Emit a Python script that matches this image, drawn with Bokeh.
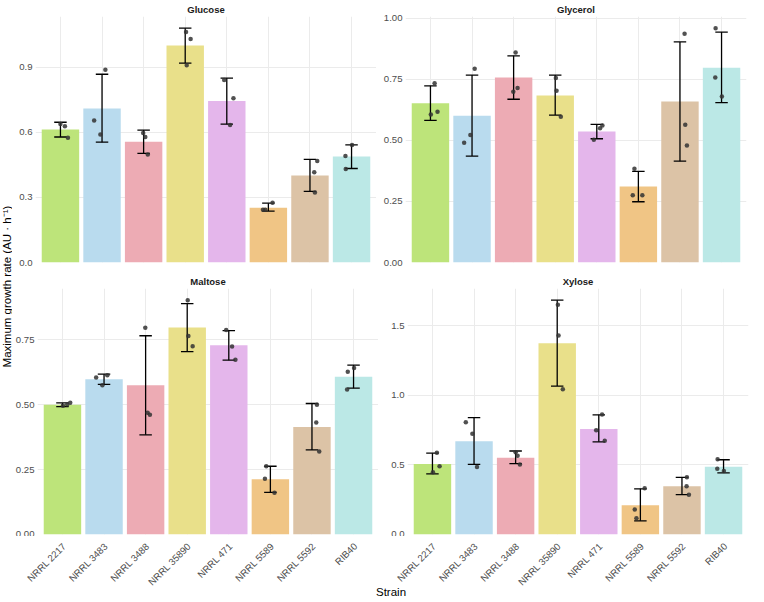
from math import pi
import numpy as np
from bokeh.plotting import figure
from bokeh.layouts import row, column
from bokeh.models import Range1d, FixedTicker, Label
from bokeh.core.properties import value
from bokeh.embed import file_html
from bokeh.resources import INLINE

FONT = "Liberation Sans"

strains = ["NRRL 2217", "NRRL 3483", "NRRL 3488", "NRRL 35890",
           "NRRL 471", "NRRL 5589", "NRRL 5592", "RIB40"]
bar_colors = ["#BDE47A", "#B9DBEE", "#EDABB4", "#E9E08A",
              "#E4B6EB", "#F0C585", "#DCC3A6", "#BBE8E6"]

# ---------------- Glucose ----------------
glucose_mean = [0.613, 0.709, 0.556, 0.999, 0.744, 0.252, 0.401, 0.488]
glucose_lo = [0.578, 0.554, 0.503, 0.918, 0.637, 0.237, 0.328, 0.433]
glucose_hi = [0.646, 0.867, 0.610, 1.079, 0.849, 0.273, 0.475, 0.542]
glucose_pts = [[0.638, 0.627, 0.574], [0.654, 0.590, 0.888], [0.596, 0.578, 0.497],
               [1.061, 1.029, 0.909], [0.841, 0.757, 0.633], [0.243, 0.243, 0.275],
               [0.467, 0.416, 0.322], [0.491, 0.541, 0.431]]
glucose_jit = [[0.00, 0.107, 0.18], [-0.19, -0.04, 0.08], [-0.01, 0.04, 0.10],
               [0.02, 0.13, 0.036], [-0.063, 0.16, 0.079], [-0.13, -0.075, 0.10],
               [0.175, 0.103, 0.119], [-0.147, 0.012, -0.139]]
glucose_ticks = [0.0, 0.3, 0.6, 0.9]
glucose_labels = ["0.0", "0.3", "0.6", "0.9"]

# ---------------- Glycerol ----------------
glycerol_mean = [0.653, 0.601, 0.758, 0.684, 0.537, 0.311, 0.660, 0.798]
glycerol_lo = [0.582, 0.436, 0.669, 0.604, 0.507, 0.249, 0.415, 0.655]
glycerol_hi = [0.724, 0.768, 0.847, 0.768, 0.566, 0.373, 0.904, 0.944]
glycerol_pts = [[0.735, 0.618, 0.606], [0.794, 0.522, 0.491], [0.861, 0.715, 0.700],
                [0.756, 0.704, 0.597], [0.561, 0.550, 0.503], [0.384, 0.276, 0.276],
                [0.937, 0.564, 0.479], [0.960, 0.758, 0.680]]
glycerol_jit = [[0.10, 0.17, 0.01], [0.063, -0.04, -0.19], [0.048, 0.095, -0.008],
                [0.016, 0.032, 0.135], [0.135, 0.079, -0.071], [-0.095, -0.135, 0.095],
                [0.111, 0.127, 0.167], [-0.143, -0.151, 0.008]]
glycerol_ticks = [0.0, 0.25, 0.5, 0.75, 1.0]
glycerol_labels = ["0.00", "0.25", "0.50", "0.75", "1.00"]

# ---------------- Maltose ----------------
maltose_mean = [0.500, 0.598, 0.575, 0.798, 0.729, 0.213, 0.414, 0.608]
maltose_lo = [0.493, 0.579, 0.384, 0.705, 0.672, 0.162, 0.326, 0.564]
maltose_hi = [0.507, 0.618, 0.766, 0.890, 0.786, 0.263, 0.505, 0.653]
maltose_pts = [[0.508, 0.501, 0.496], [0.605, 0.614, 0.575], [0.797, 0.469, 0.462],
               [0.903, 0.765, 0.726], [0.788, 0.725, 0.674], [0.263, 0.215, 0.161],
               [0.500, 0.432, 0.320], [0.627, 0.642, 0.559]]
maltose_jit = [[0.187, 0.115, 0.012], [-0.19, 0.079, -0.04], [-0.008, 0.048, 0.103],
               [0.012, 0.028, 0.131], [-0.063, 0.079, 0.159], [-0.099, -0.131, 0.099],
               [0.119, 0.103, 0.175], [-0.139, 0.012, -0.155]]
maltose_ticks = [0.0, 0.25, 0.5, 0.75]
maltose_labels = ["0.00", "0.25", "0.50", "0.75"]

# ---------------- Xylose ----------------
xylose_mean = [0.506, 0.670, 0.551, 1.373, 0.757, 0.211, 0.347, 0.487]
xylose_lo = [0.436, 0.504, 0.509, 1.066, 0.666, 0.098, 0.286, 0.443]
xylose_hi = [0.584, 0.839, 0.600, 1.683, 0.860, 0.328, 0.410, 0.537]
xylose_pts = [[0.588, 0.490, 0.448], [0.806, 0.724, 0.485], [0.591, 0.565, 0.502],
              [1.650, 1.430, 1.043], [0.862, 0.748, 0.673], [0.333, 0.180, 0.117],
              [0.412, 0.347, 0.286], [0.541, 0.473, 0.457]]
xylose_jit = [[0.107, 0.171, 0.012], [-0.198, -0.04, 0.071], [0.0, 0.048, 0.103],
              [0.016, 0.032, 0.135], [0.079, -0.063, 0.143], [0.103, -0.135, -0.095],
              [0.119, 0.111, 0.167], [-0.143, -0.151, 0.008]]
xylose_ticks = [0.0, 0.5, 1.0, 1.5]
xylose_labels = ["0.0", "0.5", "1.0", "1.5"]

x_title = "Strain"
y_title = "Maximum growth rate (AU \u00b7 h\u207b\u00b9)"

FW, FH = 341, 246
YW = 12                      # width of the strip holding the y title
BL, GAP, BR = 23, 29, 1      # left border, gap between panels, right border (px)
LAB = 62                     # height of the strip holding slanted names + "Strain"
GRID = "#EBEBEB"
TICK_COLOR = "#4D4D4D"
N = len(strains)
XPAD = 0.6                   # discrete-scale expansion on each side
XSPAN = N - 1 + 2 * XPAD


def make_panel(title, mean, lo, hi, pts, jit, ticks, labels, bottom, left):
    xs = np.arange(1, N + 1)
    ymax = 1.05 * max(max(hi), max(max(p) for p in pts))
    p = figure(frame_width=FW, frame_height=FH,
               x_range=Range1d(1 - XPAD, N + XPAD), y_range=Range1d(0, ymax),
               output_backend="svg", toolbar_location=None,
               min_border_left=BL if left else GAP,
               min_border_right=0 if left else BR,
               min_border_top=0,
               min_border_bottom=2 if bottom else 10,
               outline_line_color=None, background_fill_color="white",
               border_fill_color="white", title=title)
    p.title.text_font = FONT
    p.title.text_font_size = "9.5px"
    p.title.text_font_style = "bold"
    p.title.text_color = "#1A1A1A"
    p.title.align = "center"
    p.title.standoff = 3

    # grid
    p.xgrid.ticker = FixedTicker(ticks=list(xs))
    p.ygrid.ticker = FixedTicker(ticks=ticks)
    p.xgrid.grid_line_color = GRID
    p.ygrid.grid_line_color = GRID
    p.xgrid.grid_line_width = 1
    p.ygrid.grid_line_width = 1

    # y axis
    ya = p.yaxis[0]
    ya.ticker = FixedTicker(ticks=ticks)
    ya.major_label_overrides = {t: l for t, l in zip(ticks, labels)}
    ya.axis_line_color = None
    ya.major_tick_line_color = None
    ya.minor_tick_line_color = None
    ya.major_tick_out = 0
    ya.major_tick_in = 0
    ya.minor_tick_out = 0
    ya.minor_tick_in = 0
    ya.major_label_standoff = 3
    ya.major_label_text_font = FONT
    ya.major_label_text_font_size = "9.6px"
    ya.major_label_text_color = TICK_COLOR

    p.xaxis[0].visible = False

    # bars
    p.vbar(x=xs, top=mean, width=0.9, fill_color=bar_colors, line_color=None)

    # error bars (mean +/- sd)
    p.segment(x0=xs, y0=lo, x1=xs, y1=hi, line_color="black", line_width=1.3)
    p.segment(x0=xs - 0.15, y0=hi, x1=xs + 0.15, y1=hi, line_color="black", line_width=1.3)
    p.segment(x0=xs - 0.15, y0=lo, x1=xs + 0.15, y1=lo, line_color="black", line_width=1.3)

    # replicate points
    px, py = [], []
    for i in range(N):
        for k in range(len(pts[i])):
            px.append(xs[i] + jit[i][k])
            py.append(pts[i][k])
    p.scatter(px, py, size=4.5, fill_color="#333333", line_color=None, fill_alpha=0.85)
    return p


f1 = make_panel("Glucose", glucose_mean, glucose_lo, glucose_hi, glucose_pts,
                glucose_jit, glucose_ticks, glucose_labels, False, True)
f2 = make_panel("Glycerol", glycerol_mean, glycerol_lo, glycerol_hi, glycerol_pts,
                glycerol_jit, glycerol_ticks, glycerol_labels, False, False)
f3 = make_panel("Maltose", maltose_mean, maltose_lo, maltose_hi, maltose_pts,
                maltose_jit, maltose_ticks, maltose_labels, True, True)
f4 = make_panel("Xylose", xylose_mean, xylose_lo, xylose_hi, xylose_pts,
                xylose_jit, xylose_ticks, xylose_labels, True, False)


def strip(width, height, xr, yr):
    s = figure(width=width, height=height, output_backend="svg", toolbar_location=None,
               x_range=xr, y_range=yr, min_border=0,
               outline_line_color=None, background_fill_color="white",
               border_fill_color="white")
    s.xaxis.visible = False
    s.yaxis.visible = False
    s.xgrid.visible = False
    s.ygrid.visible = False
    return s


YS_H = 520
ystrip = strip(YW, YS_H, Range1d(0, 1), Range1d(0, 1))
ystrip.add_layout(Label(x=YW / 2, y=YS_H - 286, x_units="screen", y_units="screen",
                        text=y_title, angle=pi / 2, text_align="center",
                        text_baseline="middle", text_font=FONT,
                        text_font_size="11.5px", text_color="black"))

# shared full-width strip under the bottom panels, on the same x scale as the panels
XW = YW + BL + FW + GAP + FW + BR
unit = XSPAN / FW                         # data units per pixel in each panel
x0 = (1 - XPAD) - (YW + BL) * unit
xstrip = strip(XW, LAB, Range1d(x0, x0 + XW * unit), Range1d(-LAB, 0))
shift = (FW + GAP) * unit                 # x offset of the right-hand panel
xs = np.arange(1, N + 1)
tick_x = list(xs) + list(xs + shift)
xstrip.text(x=tick_x, y=[-4] * (2 * N), text=strains + strains, angle=pi / 4,
            text_align="right", text_baseline="top",
            text_font=value(FONT), text_font_size="9.6px", text_color=TICK_COLOR)
xstrip.add_layout(Label(x=YW + BL + (FW + GAP + FW) / 2, y=7, x_units="screen",
                        y_units="screen", text=x_title, text_align="center",
                        text_baseline="middle", text_font=FONT,
                        text_font_size="11.5px", text_color="black"))

page = column(row(ystrip, column(row(f1, f2), row(f3, f4))), xstrip)

open("out.html", "w").write(file_html(page, INLINE))
